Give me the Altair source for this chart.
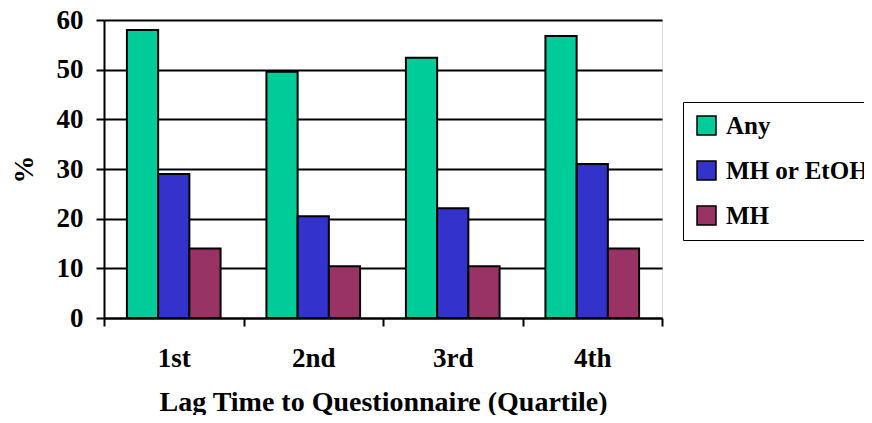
import altair as alt
import pandas as pd

quartiles = ["1st", "2nd", "3rd", "4th"]
series = ["Any", "MH or EtOH", "MH"]
any_vals = [58.0, 49.6, 52.4, 56.8]
mh_etoh_vals = [29.0, 20.5, 22.1, 31.0]
mh_vals = [14.0, 10.4, 10.4, 14.0]
colors = ["#00CC99", "#3333CC", "#993366"]

rows = []
for s, vals in zip(series, [any_vals, mh_etoh_vals, mh_vals]):
    for q, v in zip(quartiles, vals):
        rows.append({"Quartile": q, "Series": s, "Value": v})
df = pd.DataFrame(rows)

FONT = "Liberation Serif, Times New Roman, serif"
TICK_FS = 27
TITLE_FS = 28
LEG_FS = 25

chart = alt.Chart(df).mark_bar(stroke="black", strokeWidth=2).encode(
    x=alt.X("Quartile:N", sort=quartiles,
            scale=alt.Scale(paddingInner=0, paddingOuter=0),
            axis=alt.Axis(title="Lag Time to Questionnaire (Quartile)", labelAngle=0,
                          tickBand="extent", grid=False,
                          domainColor="black", domainWidth=2,
                          tickColor="black", tickWidth=2, tickSize=8,
                          labelFont=FONT, labelFontSize=TICK_FS, labelFontWeight="bold",
                          labelColor="black", labelBaseline="alphabetic", labelPadding=40,
                          titleFont=FONT, titleFontSize=TITLE_FS, titleFontWeight="bold",
                          titleColor="black", titleBaseline="alphabetic", titleY=92)),
    xOffset=alt.XOffset("Series:N", sort=series,
                        scale=alt.Scale(paddingInner=0, paddingOuter=0.734)),
    y=alt.Y("Value:Q", scale=alt.Scale(domain=[0, 60], nice=False),
            axis=alt.Axis(title="%", values=[0, 10, 20, 30, 40, 50, 60],
                          grid=True, gridColor="black", gridWidth=2, gridOpacity=1,
                          domainColor="black", domainWidth=2,
                          tickColor="black", tickWidth=2, tickSize=8,
                          labelFont=FONT, labelFontSize=TICK_FS, labelFontWeight="bold",
                          labelColor="black", labelPadding=13,
                          titleFont=FONT, titleFontSize=TITLE_FS, titleFontWeight="bold",
                          titleColor="black", titleAngle=270, titleAlign="center",
                          titleBaseline="middle", titleX=-80, titleY=149)),
    color=alt.Color("Series:N", sort=series,
                    scale=alt.Scale(domain=series, range=colors),
                    legend=alt.Legend(title=None, orient="none", legendX=579, legendY=82,
                                      symbolType="square", symbolSize=361,
                                      symbolStrokeColor="black", symbolStrokeWidth=1.5,
                                      symbolOpacity=1,
                                      labelFont=FONT, labelFontSize=LEG_FS, labelFontWeight="bold",
                                      labelColor="black", labelOffset=7, labelLimit=400,
                                      rowPadding=19, padding=11,
                                      strokeColor="black", fillColor="white")),
).properties(
    width=558,
    height=298,
    autosize=alt.AutoSizeParams(type="none"),
    padding={"left": 96, "top": 12, "right": 202, "bottom": 97},
).configure_view(
    stroke="black", strokeWidth=2
).configure_legend(
    strokeWidth=2
).configure(background="white")

chart.save("out.html", embed_options={"renderer": "svg", "actions": False})
